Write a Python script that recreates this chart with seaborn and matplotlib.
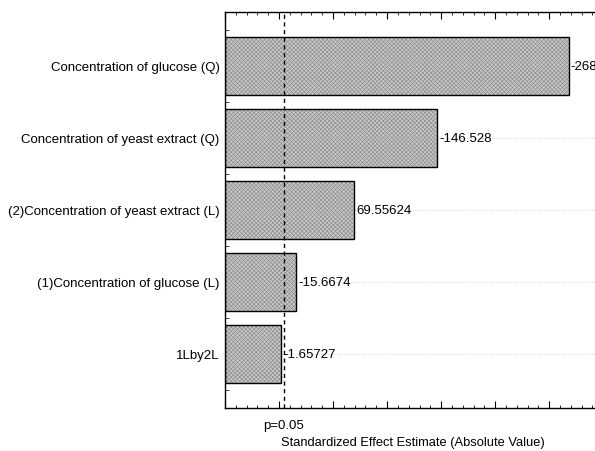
import matplotlib
matplotlib.use("Agg")
import matplotlib.pyplot as plt
import seaborn as sns
import numpy as np
import pandas as pd
from matplotlib.ticker import MultipleLocator, FixedLocator, NullFormatter

factors = ["Concentration of glucose (Q)",
           "Concentration of yeast extract (Q)",
           "(2)Concentration of yeast extract (L)",
           "(1)Concentration of glucose (L)",
           "1Lby2L"]
effects = [268.0, 146.528, 69.55624, 15.6674, 1.65727]
value_labels = ["-268", "-146.528", "69.55624", "-15.6674", "-1.65727"]
p_crit = 4.303
p_label = "p=0.05"
x_label = "Standardized Effect Estimate (Absolute Value)"

XMIN, XMAX = -50, 297

sns.set_theme(style="white")
plt.rcParams['font.family'] = ['Liberation Sans', 'DejaVu Sans']
plt.rcParams['hatch.linewidth'] = 0.45
plt.rcParams['text.color'] = 'black'

df = pd.DataFrame({"factor": factors, "effect": effects})

fig = plt.figure(figsize=(5.95, 4.52), dpi=100)
ax = fig.add_axes([225/595, (452-409)/452, 375/595, 396/452])

# hatched fill layer
sns.barplot(data=df, x="effect", y="factor", orient="h", ax=ax,
            color="#c8c8c8", saturation=1, width=0.8,
            edgecolor="#8c8c8c", linewidth=0, hatch="xxxxxxxx")
# outline layer
sns.barplot(data=df, x="effect", y="factor", orient="h", ax=ax,
            fill=False, width=0.8, edgecolor="black", linewidth=1.0)

for i, p in enumerate(ax.patches):
    v = effects[i % len(effects)]
    p.set_x(XMIN)
    p.set_width(v - XMIN)

ax.set_xlim(XMIN, XMAX)
ax.set_ylim(len(factors) - 0.25, -0.75)

# grid lines at category centers
for i in range(len(factors)):
    ax.axhline(i, color="#d0d0d0", lw=0.6, ls=(0, (1, 1.5)), zorder=0)

ax.axvline(p_crit, color="black", lw=1.0, ls=(0, (3, 2.5)), zorder=3)

for i, (v, t) in enumerate(zip(effects, value_labels)):
    ax.annotate(t, (v, i), xytext=(1.5, 0), textcoords="offset points",
                va="center", ha="left", fontsize=9.5, color="black")

ax.xaxis.set_major_locator(MultipleLocator(50))
ax.xaxis.set_minor_locator(MultipleLocator(10))
ax.xaxis.set_major_formatter(NullFormatter())
ax.yaxis.set_minor_locator(FixedLocator(np.arange(-0.5, len(factors), 1.0)))
ax.tick_params(axis="x", which="major", direction="in", length=5, width=0.8,
               top=True, bottom=True, colors="black")
ax.tick_params(axis="x", which="minor", direction="in", length=2.5, width=0.6,
               top=True, bottom=True, colors="black")
ax.tick_params(axis="y", which="major", direction="in", length=4, width=0.8,
               left=True, labelsize=9.5, pad=4, colors="black")
ax.tick_params(axis="y", which="minor", direction="in", length=3, width=0.6,
               left=True)
ax.set_ylabel("")
ax.set_xlabel("")

for s in ["left", "top", "bottom"]:
    ax.spines[s].set_color("black")
    ax.spines[s].set_linewidth(1.0)
ax.spines["right"].set_visible(False)

ax.text(p_crit, -0.027, p_label, transform=ax.get_xaxis_transform(),
        ha="center", va="top", fontsize=9.5, color="black")
ax.text(0.5, -0.071, x_label, transform=ax.transAxes,
        ha="center", va="top", fontsize=9.3, color="black")

fig.savefig("out.png", dpi=100)
